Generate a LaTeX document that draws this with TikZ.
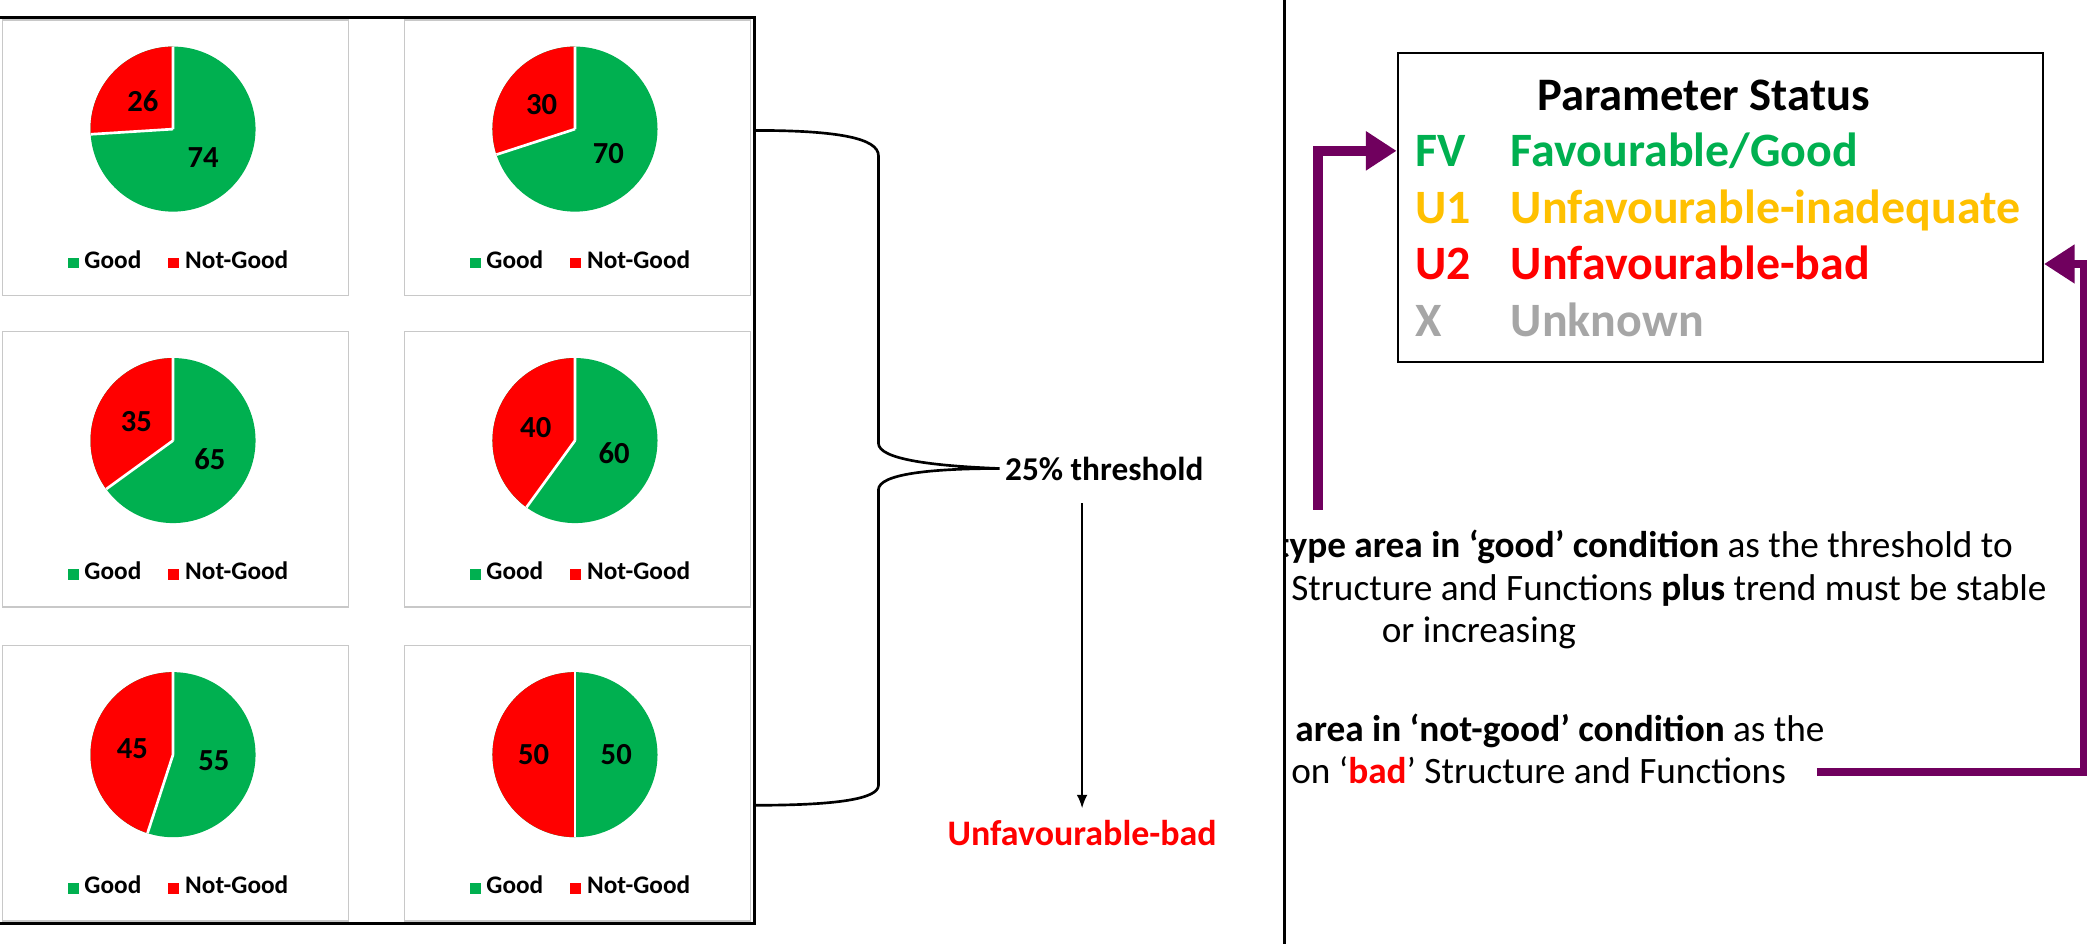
\documentclass[tikz,border=0pt]{standalone}
\usepackage{fontspec}
\setmainfont{Carlito}
\usepackage{xcolor}
\usepackage{tikz}
\usetikzlibrary{calc,arrows.meta,positioning}
\definecolor{pgreen}{HTML}{00B050}
\definecolor{pred}{HTML}{FF0000}
\definecolor{pyellow}{HTML}{FFC000}
\definecolor{pgrey}{HTML}{A6A6A6}
\definecolor{ppurple}{RGB}{112,0,94}
\definecolor{cardgrey}{HTML}{C8C8C8}
\tikzset{pielabel/.style={font=\fontsize{23}{27}\selectfont\bfseries, inner sep=0pt},
  legend/.style={font=\fontsize{19}{23}\selectfont\bfseries, inner sep=0pt},
  card/.style={draw=cardgrey, line width=1pt},
  statusrow/.style={anchor=base west, inner sep=0pt, font=\fontsize{36}{43}\selectfont\bfseries},
  bodytext/.style={anchor=base west, inner sep=0pt, font=\fontsize{28}{32}\selectfont},
  purplearrow/.style={draw=ppurple, line width=#1, -{Triangle[length=23pt,width=28pt]}}}
% one pie card: name, centre x, centre y, not-good percent
\newcommand{\habpie}[4]{%
  \coordinate (#1) at (#2,#3);
  \draw[card] ($(#1)+(-128,-82)$) rectangle ($(#1)+(132,125)$);
  \fill[pgreen] (#1) circle[radius=62];
  \fill[pred] (#1) -- ++(-90:62) arc[start angle=-90, delta angle=-3.6*#4, radius=62] -- cycle;
  \draw[white, line width=2pt] (#1) -- ++(-90:62) (#1) -- ++(-90-3.6*#4:62);
  \pgfmathtruncatemacro\goodval{100-#4}
  \node[pielabel] (#1-ng) at ($(#1)+(-90-1.8*#4:31)$) {#4};
  \node[pielabel] (#1-g) at ($(#1)+(90-1.8*#4:31)$) {\goodval};
  \node[legend] (#1-leg) at ($(#1)+(4,98)$) {{\color{pgreen}\rule{8pt}{8pt}}\hspace{4pt}Good\hspace{20pt}{\color{pred}\rule{8pt}{8pt}}\hspace{5pt}Not-Good};
}
\begin{document}
\begin{tikzpicture}[x=1pt, y=-1pt, >=latex]
\useasboundingbox (0,0) rectangle (1568,709);
\fill[white] (0,0) rectangle (1568,709);

% the pie charts

    \habpie{pie1}{130}{97}{26}
    \habpie{pie2}{432}{97}{30}
    \habpie{pie3}{130}{331}{35}
    \habpie{pie4}{432}{331}{40}
    \habpie{pie5}{130}{567}{45}
    \habpie{pie6}{432}{567}{50}
    \draw[line width=2.5pt] (-5,13) rectangle (567,694);

% the threshold

    \node[font=\fontsize{25}{30}\selectfont\bfseries, anchor=west, inner sep=0pt] (thr) at (755,352) {25\% threshold};
    \node[font=\fontsize{27}{32}\selectfont\bfseries, text=pred, inner sep=0pt] (ubad) at (813,626) {Unfavourable-bad};
    \coordinate (bracetop) at (568,98);
    \coordinate (bracebot) at (568,605);
    \draw[line width=2pt] (bracetop) .. controls (630,98) and (660,104) .. (660,117) -- (660,333)
      .. controls (660,345) and (700,350) .. ([xshift=-4pt]thr.west)
      .. controls (700,352) and (660,356) .. (660,368) -- (660,590)
      .. controls (660,600) and (630,605) .. (bracebot);
    \draw[-{Latex[length=10pt,width=8pt]}, line width=1.3pt] ([yshift=-17pt]thr.south -| ubad.north) -- ([yshift=9pt]ubad.north);

    \draw[line width=2pt] (965,-5) -- (965,715);

% the status box

    \node[draw, line width=1.5pt, minimum width=485pt, minimum height=232pt, inner sep=0pt] (statusbox) at (1292.5,156) {};
    \node[font=\fontsize{35}{42}\selectfont\bfseries, anchor=base, inner sep=0pt] (title) at (1280,83) {Parameter Status};
    \node[statusrow, text=pgreen] (fv) at (1063,125) {FV};
    \node[statusrow, text=pgreen] (fvtext) at (1135,125) {Favourable/Good};
    \node[statusrow, text=pyellow] (u1) at (1063,168) {U1};
    \node[statusrow, text=pyellow] (u1text) at (1135,168) {Unfavourable-inadequate};
    \node[statusrow, text=pred] (u2) at (1063,210) {U2};
    \node[statusrow, text=pred] (u2text) at (1135,210) {Unfavourable-bad};
    \node[statusrow, text=pgrey] (x) at (1063,253) {X};
    \node[statusrow, text=pgrey] (xtext) at (1135,253) {Unknown};

% the conditions

    \begin{scope}
    \clip (965,0) rectangle (1568,709);
    \node[bodytext] (good1) at (959,419) {\textbf{type area in ‘good’ condition} as the threshold to};
    \node[bodytext] (good2) at (970,451) {Structure and Functions \textbf{plus} trend must be stable};
    \node[bodytext] (good3) at (1038,483) {or increasing};
    \node[bodytext] (bad1) at (973,557) {\textbf{area in ‘not-good’ condition} as the};
    \node[bodytext] (bad2) at (970,589) {on ‘\textcolor{pred}{\textbf{bad}}’ Structure and Functions};
    \end{scope}
    \coordinate (goodfoot) at (990,383);
    \coordinate (badfoot) at (1365,580);
    \draw[purplearrow=7.5pt] (goodfoot) |- (statusbox.west |- fv);
    \draw[purplearrow=5.5pt] (badfoot) -| ($(statusbox.east |- u2)+(30,0)$) -- (statusbox.east |- u2);

\end{tikzpicture}
\end{document}
